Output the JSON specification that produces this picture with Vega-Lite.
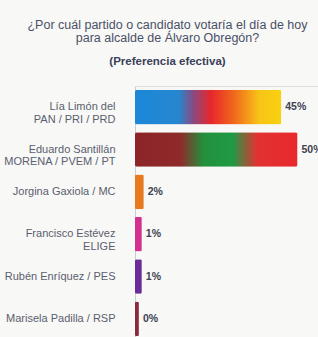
{
  "$schema": "https://vega.github.io/schema/vega-lite/v6.json",
  "width": 183,
  "height": 254,
  "autosize": {"type": "none"},
  "padding": {"left": 135, "top": 86, "right": 0, "bottom": 0},
  "background": "#f8f8f6",
  "title": {
    "text": ["¿Por cuál partido o candidato votaría el día de hoy", "para alcalde de Álvaro Obregón?"],
    "subtitle": "(Preferencia efectiva)",
    "font": "Liberation Sans",
    "fontSize": 12.5,
    "fontWeight": "normal",
    "color": "#4a5066",
    "lineHeight": 13,
    "subtitleFont": "Liberation Sans",
    "subtitleFontSize": 11.5,
    "subtitleFontWeight": "bold",
    "subtitleColor": "#3a4058",
    "subtitlePadding": 11,
    "anchor": "middle",
    "dx": -59,
    "offset": 19
  },
  "data": {
    "values": [
      {"name": "Lía Limón del|PAN / PRI / PRD", "grp": "a", "value": 45, "label": "45%"},
      {"name": "Eduardo Santillán|MORENA / PVEM / PT", "grp": "b", "value": 50, "label": "50%"},
      {"name": "Jorgina Gaxiola / MC", "grp": "MC", "value": 2.7, "label": "2%"},
      {"name": "Francisco Estévez|ELIGE", "grp": "ELIGE", "value": 2.1, "label": "1%"},
      {"name": "Rubén Enríquez / PES", "grp": "PES", "value": 2.1, "label": "1%"},
      {"name": "Marisela Padilla / RSP", "grp": "RSP", "value": 1.2, "label": "0%"}
    ]
  },
  "encoding": {
    "y": {
      "field": "name",
      "type": "nominal",
      "sort": null,
      "scale": {"paddingInner": 0.18, "paddingOuter": 0.09},
      "axis": {
        "title": null,
        "labelExpr": "split(datum.label, '|')",
        "labelFont": "Liberation Sans",
        "labelFontSize": 11,
        "labelColor": "#5a5e6e",
        "labelLineHeight": 12.5,
        "labelPadding": 20,
        "labelLimit": 200,
        "ticks": false,
        "domainColor": "#c8ccd4",
        "domainWidth": 1
      }
    },
    "x": {
      "field": "value",
      "type": "quantitative",
      "scale": {"domain": [0, 56.3]},
      "axis": null
    }
  },
  "layer": [
    {
      "transform": [{"filter": "datum.grp == 'a'"}],
      "mark": {
        "type": "bar",
        "cornerRadius": 2,
        "fill": {
          "gradient": "linear", "x1": 0, "x2": 1, "y1": 0, "y2": 0,
          "stops": [
            {"offset": 0, "color": "#1b88d8"},
            {"offset": 0.3, "color": "#2786cf"},
            {"offset": 0.4, "color": "#8a4a80"},
            {"offset": 0.52, "color": "#e8262c"},
            {"offset": 0.68, "color": "#f06a1c"},
            {"offset": 0.85, "color": "#f8c416"},
            {"offset": 1, "color": "#f8d20e"}
          ]
        }
      }
    },
    {
      "transform": [{"filter": "datum.grp == 'b'"}],
      "mark": {
        "type": "bar",
        "cornerRadius": 2,
        "fill": {
          "gradient": "linear", "x1": 0, "x2": 1, "y1": 0, "y2": 0,
          "stops": [
            {"offset": 0, "color": "#8c2428"},
            {"offset": 0.28, "color": "#8e2a2a"},
            {"offset": 0.42, "color": "#23903c"},
            {"offset": 0.6, "color": "#1f9a44"},
            {"offset": 0.75, "color": "#e23232"},
            {"offset": 1, "color": "#e8282c"}
          ]
        }
      }
    },
    {
      "transform": [{"filter": "datum.grp != 'a' && datum.grp != 'b'"}],
      "mark": {"type": "bar", "cornerRadius": 1.5},
      "encoding": {
        "color": {
          "field": "grp",
          "type": "nominal",
          "scale": {"domain": ["MC", "ELIGE", "PES", "RSP"], "range": ["#e8791f", "#d4308e", "#6a2c98", "#8a2a3c"]},
          "legend": null
        }
      }
    },
    {
      "mark": {"type": "text", "align": "left", "dx": 4, "font": "Liberation Sans", "fontSize": 10.5, "fontWeight": "bold", "color": "#3e4252"},
      "encoding": {"text": {"field": "label"}}
    }
  ]
}
